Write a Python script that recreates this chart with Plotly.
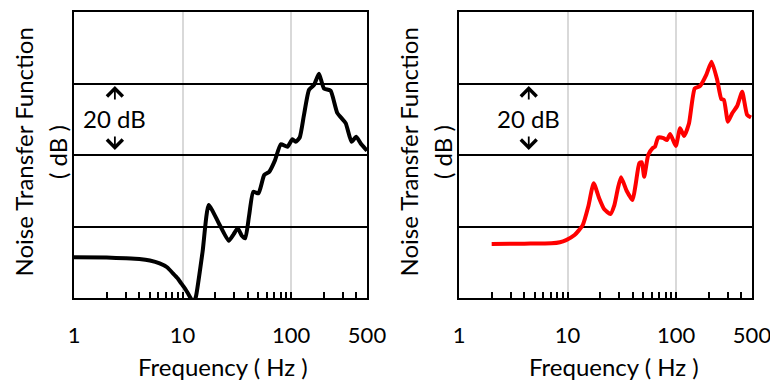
import math
import plotly.graph_objects as go

# ---- data ----
freq_left = [1, 2, 3, 4.0, 5.0, 6.15, 7.2, 8.15, 9.0, 9.72, 10.5, 11.2, 12.0, 12.6, 13.3,
             15.3, 17.4, 21.5, 26.6, 29.5, 32.2, 35.0, 37.8, 41.0, 44.8, 50.1, 56.5, 62.8,
             71.0, 80.4, 92.5, 102.8, 110, 120, 131, 146, 162.6, 180.5, 200.8, 231, 266,
             318, 360, 398, 436, 500]
ntf_left = [11.4, 11.3, 11.1, 10.9, 10.5, 9.7, 8.6, 6.9, 5.5, 4.1, 2.7, 1.3, -0.3, -1.5, 0.5,
            13.0, 26.0, 21.0, 16.0, 17.8, 19.5, 17.5, 16.7, 23.0, 29.7, 29.3, 34.4, 35.3,
            38.5, 43.0, 42.3, 44.4, 43.7, 44.9, 51.0, 58.2, 59.6, 62.7, 58.6, 58.0, 51.8,
            48.9, 43.7, 45.1, 43.3, 41.2]

freq_right = [2, 4, 7.1, 8.5, 9.7, 11.6, 13.8, 15.5, 17.4, 19.5, 21.8, 24.8, 27.0, 29.0,
              31.1, 35.0, 39.7, 42.5, 45.8, 48.3, 50.8, 55.3, 60.7, 63.8, 68.4, 76.6, 82.3,
              88.2, 99.3, 108.8, 118.4, 131.5, 148.3, 166, 190, 212, 239, 260.6, 275.6,
              300, 328.6, 365, 406, 451, 490]
ntf_right = [15.1, 15.2, 15.3, 15.6, 16.2, 17.6, 20.4, 25.5, 32.1, 28.0, 24.8, 23.5, 26.0,
             30.5, 33.8, 30.0, 27.4, 32.0, 37.7, 38.0, 33.9, 40.0, 41.9, 42.3, 44.9, 44.7,
             44.2, 45.9, 42.5, 47.5, 45.3, 48.9, 58.6, 59.3, 62.5, 66.1, 61.0, 55.7, 55.4,
             49.3, 51.7, 53.7, 57.7, 51.2, 50.5]

tick_vals = [1, 10, 100, 500]
tick_text = ["1", "10", "100", "500"]
minor_vals = [2, 3, 4, 5, 6, 7, 8, 9, 20, 30, 40, 50, 60, 70, 80, 90, 200, 300, 400]
y_grid_step = 20
y_range = [0, 80]
x_title = "Frequency ( Hz )"
y_title_1 = "Noise Transfer Function"
y_title_2 = "( dB )"
scale_label = "20 dB"

FONT = "Lato"
FS_TICK = 22
FS = 24
W, H = 770, 382

fig = go.Figure()
fig.add_trace(go.Scatter(x=freq_left, y=ntf_left, mode="lines", xaxis="x", yaxis="y",
                         line=dict(color="black", width=4, shape="spline", smoothing=0.5),
                         showlegend=False, hoverinfo="skip"))
fig.add_trace(go.Scatter(x=freq_right, y=ntf_right, mode="lines", xaxis="x2", yaxis="y2",
                         line=dict(color="#ff0000", width=4, shape="spline", smoothing=0.5),
                         showlegend=False, hoverinfo="skip"))


def xax(domain, anchor):
    return dict(type="log", range=[0, math.log10(500)], domain=domain, anchor=anchor,
                tickmode="array", tickvals=tick_vals, ticktext=tick_text,
                ticks="inside", ticklen=6, tickwidth=1.5, tickcolor="black",
                minor=dict(tickmode="array", tickvals=minor_vals, ticks="inside",
                           ticklen=6, tickwidth=1.5, tickcolor="black", showgrid=False),
                showgrid=True, gridcolor="#d9d9d9", gridwidth=1.5,
                showline=True, linecolor="black", linewidth=2, mirror=True,
                zeroline=False, tickfont=dict(family=FONT, size=FS_TICK, color="black"),
                ticklabelstandoff=17, ticklabeloverflow="allow",
                automargin=False, fixedrange=True)


def yax(domain, anchor):
    return dict(range=y_range, dtick=y_grid_step, tick0=0, domain=domain, anchor=anchor,
                showticklabels=False, ticks="", showgrid=True, gridcolor="black",
                gridwidth=1.5, showline=True, linecolor="black", linewidth=2,
                mirror=True, zeroline=False, automargin=False, fixedrange=True)


ydom = [(H - 298) / H, (H - 12) / H]
fig.update_layout(
    width=W, height=H, margin=dict(l=0, r=0, t=0, b=0, autoexpand=False),
    paper_bgcolor="white", plot_bgcolor="white",
    font=dict(family=FONT, size=FS, color="black"),
    xaxis=xax([74 / W, 367 / W], "y"),
    yaxis=yax(ydom, "x"),
    xaxis2=xax([459 / W, 752 / W], "y2"),
    yaxis2=yax(ydom, "x2"),
)

ann = []
for xref, yref, xl, tx, ty1, ty2 in [("x", "y", 2.38, 222.5, 22.5, 57),
                                     ("x2", "y2", 4.39, 614, 407.5, 442)]:
    lx = math.log10(xl)
    ann.append(dict(x=lx, y=59.3, xref=xref, yref=yref, text="", showarrow=True,
                    ax=0, ay=15, arrowhead=4, arrowsize=1.7, arrowwidth=1.8,
                    arrowcolor="black", standoff=0))
    ann.append(dict(x=lx, y=41.4, xref=xref, yref=yref, text="", showarrow=True,
                    ax=0, ay=-15, arrowhead=4, arrowsize=1.7, arrowwidth=1.8,
                    arrowcolor="black", standoff=0))
    ann.append(dict(x=lx, y=50.3, xref=xref, yref=yref, text=scale_label, showarrow=False,
                    font=dict(family=FONT, size=FS, color="black")))
    # x title
    ann.append(dict(x=tx / W, y=(H - 366) / H, xref="paper", yref="paper", text=x_title,
                    showarrow=False, xanchor="center", yanchor="middle",
                    font=dict(family=FONT, size=FS, color="black")))
    # y titles (two lines)
    ann.append(dict(x=ty1 / W, y=(H - 152) / H, xref="paper", yref="paper", text=y_title_1,
                    showarrow=False, textangle=-90, xanchor="center", yanchor="middle",
                    font=dict(family=FONT, size=FS, color="black")))
    ann.append(dict(x=ty2 / W, y=(H - 152) / H, xref="paper", yref="paper", text=y_title_2,
                    showarrow=False, textangle=-90, xanchor="center", yanchor="middle",
                    font=dict(family=FONT, size=FS, color="black")))
fig.update_layout(annotations=ann)

fig.write_html("out.html", config={"displayModeBar": False},
               post_script="document.body.style.margin='0';document.body.style.padding='0';")
